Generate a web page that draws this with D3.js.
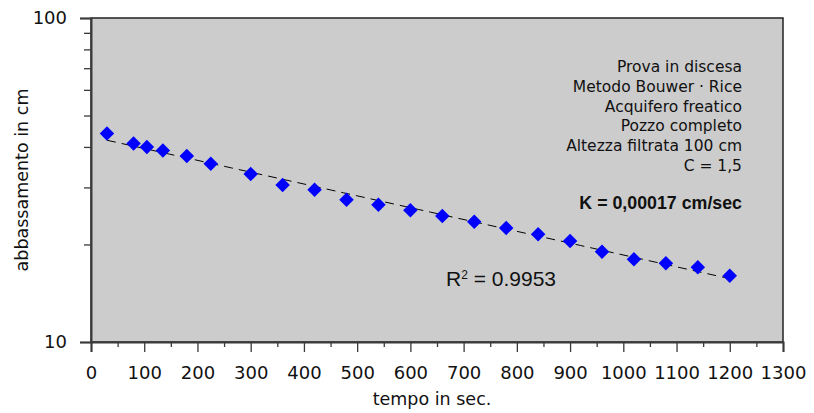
<!DOCTYPE html>
<html>
<head>
<meta charset="utf-8">
<script src="https://cdn.jsdelivr.net/npm/d3@7/dist/d3.min.js"></script>
<style>
  html, body { margin: 0; padding: 0; background: #ffffff; }
  svg { display: block; }
  text { font-family: "DejaVu Sans", sans-serif; fill: #111; }
</style>
</head>
<body>
<svg id="chart" width="814" height="413"></svg>
<script>
// Falling-head test readings: elapsed time (s) and drawdown (cm)
const times = [30, 80, 105, 135, 180, 225, 300, 360, 420, 480, 540, 600, 660, 720, 780, 840, 900, 960, 1020, 1080, 1140, 1200];
const drawdown = [44, 41, 40, 39, 37.5, 35.5, 33, 30.5, 29.5, 27.5, 26.5, 25.5, 24.5, 23.5, 22.5, 21.5, 20.5, 19, 18, 17.5, 17, 16];

const xTicks = [0, 100, 200, 300, 400, 500, 600, 700, 800, 900, 1000, 1100, 1200, 1300];
const yTickLabels = [10, 100];

const infoLines = [
  "Prova in discesa",
  "Metodo Bouwer · Rice",
  "Acquifero freatico",
  "Pozzo completo",
  "Altezza filtrata 100 cm",
  "C = 1,5"
];
const kLabel = "K = 0,00017 cm/sec";
const r2Value = "0.9953";

const svg = d3.select("#chart");
const margin = { left: 91, top: 18, right: 31, bottom: 71 };
const W = 814, H = 413;
const x0 = margin.left, x1 = W - margin.right;
const y0 = H - margin.bottom, y1 = margin.top;

const x = d3.scaleLinear().domain([0, 1300]).range([x0, x1]);
const y = d3.scaleLog().domain([10, 100]).range([y0, y1]);

// plot area
svg.append("rect")
  .attr("x", x0).attr("y", y1)
  .attr("width", x1 - x0).attr("height", y0 - y1)
  .attr("fill", "#cccccc")
  .attr("stroke", "#222").attr("stroke-width", 1.5);

const axisColor = "#3a3a3a";

// x axis: major ticks every 100, minor every 50
const xAxis = svg.append("g").attr("transform", `translate(0,${y0})`);
xAxis.append("g")
  .call(d3.axisBottom(x).tickValues(d3.range(50, 1300, 100)).tickSize(5).tickFormat(""))
  .call(g => g.select(".domain").remove())
  .selectAll("line").attr("stroke", axisColor).attr("stroke-width", 1.3);
xAxis.append("g")
  .call(d3.axisBottom(x).tickValues(xTicks).tickSize(10).tickPadding(14).tickFormat(d3.format("d")))
  .call(g => g.select(".domain").attr("stroke", axisColor).attr("stroke-width", 2))
  .call(g => g.selectAll("line").attr("stroke", axisColor).attr("stroke-width", 1.3))
  .call(g => g.selectAll("text").attr("font-size", 18).attr("fill", "#111"));

// y axis: log scale with minor ticks at each integer multiple
const yAxis = svg.append("g").attr("transform", `translate(${x0},0)`);
yAxis.append("g")
  .call(d3.axisLeft(y).tickValues(d3.range(20, 100, 10)).tickSize(7).tickFormat(""))
  .call(g => g.select(".domain").remove())
  .selectAll("line").attr("stroke", axisColor).attr("stroke-width", 1.3);
yAxis.append("g")
  .call(d3.axisLeft(y).tickValues(yTickLabels).tickSize(11).tickPadding(13).tickFormat(d3.format("d")))
  .call(g => g.select(".domain").attr("stroke", axisColor).attr("stroke-width", 2))
  .call(g => g.selectAll("line").attr("stroke", axisColor).attr("stroke-width", 1.3))
  .call(g => g.selectAll("text").attr("font-size", 18).attr("fill", "#111"));

// axis titles
svg.append("text")
  .attr("x", 432).attr("y", 405)
  .attr("text-anchor", "middle").attr("font-size", 17.5)
  .text("tempo in sec.");
svg.append("text")
  .attr("transform", `translate(28,180) rotate(-90)`)
  .attr("text-anchor", "middle").attr("font-size", 17.5)
  .text("abbassamento in cm");

// exponential trend line: least squares on ln(drawdown)
const n = times.length;
const lnY = drawdown.map(Math.log);
const mx = d3.mean(times), my = d3.mean(lnY);
let sxy = 0, sxx = 0;
for (let i = 0; i < n; i++) {
  sxy += (times[i] - mx) * (lnY[i] - my);
  sxx += (times[i] - mx) ** 2;
}
const b = sxy / sxx;
const a = my - b * mx;
const fit = t => Math.exp(a + b * t);
const tExtent = d3.extent(times);
const trendPts = d3.range(0, 51).map(i => tExtent[0] + (tExtent[1] - tExtent[0]) * i / 50);

svg.append("path")
  .datum(trendPts)
  .attr("fill", "none")
  .attr("stroke", "#000")
  .attr("stroke-width", 1)
  .attr("stroke-dasharray", "9,6")
  .attr("d", d3.line().x(t => x(t)).y(t => y(fit(t))));

// data markers (diamonds)
const diamond = d3.symbol().type(d3.symbolSquare).size(105);
svg.append("g")
  .selectAll("path")
  .data(times.map((t, i) => [t, drawdown[i]]))
  .join("path")
  .attr("transform", d => `translate(${x(d[0])},${y(d[1])}) rotate(45)`)
  .attr("d", diamond)
  .attr("fill", "#0000ff");

// test parameters block
const info = svg.append("g").attr("font-size", 15.5).attr("text-anchor", "end");
infoLines.forEach((s, i) => {
  info.append("text").attr("x", 742).attr("y", 72 + i * 19.8).text(s);
});
info.append("text")
  .attr("x", 742).attr("y", 209)
  .style("font-family", "'Liberation Sans', Arial, sans-serif")
  .attr("font-weight", "bold")
  .attr("font-size", 17.8)
  .text(kLabel);

// coefficient of determination
const r2 = svg.append("text")
  .attr("x", 446).attr("y", 286)
  .style("font-family", "'Liberation Sans', Arial, sans-serif")
  .attr("font-size", 21);
r2.append("tspan").text("R");
r2.append("tspan").attr("font-size", 12).attr("dy", -7).text("2");
r2.append("tspan").attr("dy", 7).text(" = " + r2Value);
</script>
</body>
</html>
